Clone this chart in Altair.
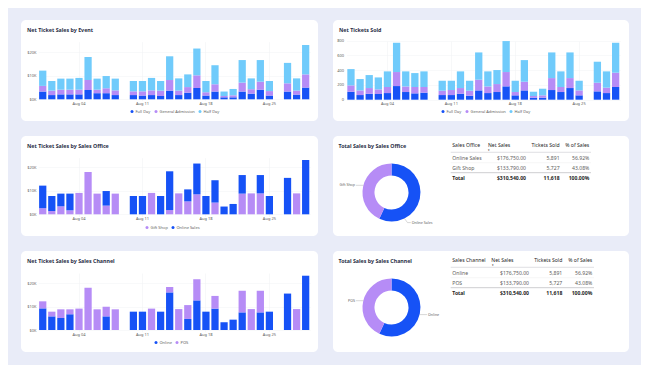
import altair as alt
import pandas as pd

FONT = "Noto Sans"
BLUE = "#1652f6"
PURPLE = "#b68cf6"
LIGHT = "#70cbfb"
BG = "#e9ecf8"
TITLE_C = "#2a2e45"
TEXT_C = "#605e5c"
DARK_C = "#252423"

all_days = ["Jul 31", "Aug 01", "Aug 02", "Aug 03", "Aug 04", "Aug 05", "Aug 06", "Aug 07",
            "Aug 08", "Aug 09", "Aug 10", "Aug 11", "Aug 12", "Aug 13", "Aug 14", "Aug 15",
            "Aug 16", "Aug 17", "Aug 18", "Aug 19", "Aug 20", "Aug 21", "Aug 22", "Aug 23",
            "Aug 24", "Aug 25", "Aug 26", "Aug 27", "Aug 28", "Aug 29"]
sale_days = ["Jul 31", "Aug 01", "Aug 02", "Aug 03", "Aug 04", "Aug 05", "Aug 06", "Aug 07",
             "Aug 08", "Aug 10", "Aug 11", "Aug 12", "Aug 13", "Aug 14", "Aug 15",
             "Aug 16", "Aug 17", "Aug 18", "Aug 19", "Aug 20", "Aug 21", "Aug 22", "Aug 23",
             "Aug 24", "Aug 25", "Aug 27", "Aug 28", "Aug 29"]
tick_days = ["Aug 04", "Aug 11", "Aug 18", "Aug 25"]

# Net ticket sales by event ($K)
ev_full = [3.3, 1.8, 2.1, 2.1, 2.1, 4.0, 2.6, 2.6, 1.8, 1.8, 1.6, 1.8, 1.4, 3.7, 1.8, 2.8,
           4.8, 1.6, 3.3, 0.85, 0.85, 3.3, 2.4, 4.1, 1.6, 3.3, 2.0, 5.0]
ev_ga = [2.4, 1.9, 2.0, 2.0, 2.0, 4.2, 1.5, 2.1, 2.0, 1.6, 1.8, 2.0, 2.3, 4.5, 1.9, 2.4,
         5.4, 1.4, 3.1, 0.55, 0.85, 3.8, 1.9, 3.4, 1.9, 3.5, 1.7, 5.6]
ev_half = [6.5, 4.1, 4.7, 4.7, 5.0, 9.8, 4.7, 5.2, 5.0, 4.4, 4.4, 5.3, 4.1, 10.1, 5.2, 5.4,
           11.4, 4.8, 8.1, 1.9, 2.7, 9.6, 4.6, 9.2, 4.3, 8.7, 5.2, 12.5]

# Net tickets sold
tk_full = [108, 63, 81, 77, 90, 185, 104, 86, 95, 63, 63, 81, 54, 126, 90, 104, 181, 59, 126,
           27, 27, 131, 104, 158, 59, 113, 90, 172]
tk_ga = [86, 63, 77, 63, 82, 190, 76, 86, 77, 59, 68, 77, 68, 145, 90, 108, 194, 45, 118,
         23, 32, 162, 68, 135, 67, 117, 73, 194]
tk_half = [221, 154, 176, 162, 212, 397, 204, 189, 212, 135, 126, 226, 135, 370, 204, 190, 420,
           153, 293, 58, 90, 348, 212, 348, 131, 285, 221, 406]

# Net ticket sales by sales office ($K)
of_gift = [2.6, 1.4, 3.4, 1.7, 9.1, 18.0, 8.8, 3.7, 8.8, 0, 0, 9.1, 0, 1.8, 8.9, 5.5, 8.5, 0,
           5.0, 0, 0, 8.8, 8.9, 8.9, 0, 0, 8.9, 0]
of_online = [9.6, 6.4, 5.4, 7.1, 0, 0, 0, 6.2, 0, 7.8, 7.8, 0, 7.8, 16.5, 0, 5.1, 13.1, 7.8,
             9.5, 3.3, 4.4, 7.9, 0, 7.8, 7.8, 15.5, 0, 23.1]

# Net ticket sales by sales channel ($K)
ch_online = [9.2, 5.8, 5.1, 6.7, 0, 0, 0, 5.8, 0, 7.8, 7.8, 0, 7.8, 16.0, 0, 4.7, 12.6, 7.8,
             9.1, 3.3, 4.4, 7.5, 0, 7.5, 7.8, 15.5, 0, 23.1]
ch_pos = [3.0, 2.0, 3.7, 2.1, 9.1, 18.0, 8.8, 4.1, 8.8, 0, 0, 9.1, 0, 2.3, 8.9, 5.9, 9.0, 0,
          5.4, 0, 0, 9.2, 8.9, 9.2, 0, 0, 8.9, 0]

# Totals tables
office_names = ["Online Sales", "Gift Shop"]
channel_names = ["Online", "POS"]
net_sales = [176750.00, 133790.00]
tickets_sold = [5891, 5727]
pct_sales = [56.92, 43.08]
total_net = 310540.00
total_tickets = 11618
total_pct = 100.00


def long_df(names, series):
    rows = []
    for o, (n, vals) in enumerate(zip(names, series)):
        for d, v in zip(sale_days, vals):
            rows.append({"day": d, "cat": n, "v": v, "o": o})
    return pd.DataFrame(rows)


def title_layer(text, x=6, y=9.8):
    return alt.Chart(pd.DataFrame({"t": [text]})).mark_text(
        align="left", baseline="middle", fontSize=5.3, fontWeight="bold",
        color=TITLE_C, font=FONT
    ).encode(text="t:N", x=alt.value(x), y=alt.value(y))


def bar_panel(title, names, series, colors, x_range, y_dom, y_rng, y_vals, y_expr,
              y_off, legend_x, w, h):
    df = long_df(names, series)
    bars = alt.Chart(df).mark_bar().encode(
        x=alt.X("day:O",
                scale=alt.Scale(domain=all_days, range=x_range, paddingInner=0.2,
                                paddingOuter=0.1),
                axis=alt.Axis(values=tick_days, title=None, labelAngle=0, labelFontSize=4,
                              labelColor=TEXT_C, labelFont=FONT, labelPadding=2.2,
                              ticks=False, domain=False, grid=True, gridColor="#eef0f3",
                              gridWidth=0.5, offset=y_rng[0] - h)),
        y=alt.Y("v:Q", stack="zero",
                scale=alt.Scale(domain=y_dom, range=y_rng, nice=False, zero=True),
                axis=alt.Axis(values=y_vals, labelExpr=y_expr, title=None, labelFontSize=4,
                              labelColor=TEXT_C, labelFont=FONT, labelPadding=2,
                              ticks=False, domain=False, grid=True, gridColor="#f1f2f5",
                              gridWidth=0.5, offset=y_off)),
        color=alt.Color("cat:N", scale=alt.Scale(domain=names, range=colors),
                        legend=alt.Legend(orient="none", legendX=legend_x, legendY=89.6,
                                          direction="horizontal", title=None,
                                          symbolType="circle", symbolSize=9,
                                          symbolStrokeWidth=0, labelFontSize=4,
                                          labelFont=FONT, labelColor=TEXT_C,
                                          labelOffset=1.5, columnPadding=3, padding=0)),
        order=alt.Order("o:Q", sort="ascending"),
    )
    return alt.layer(bars, title_layer(title)).properties(width=w, height=h)


def fmt_money(v):
    return "${:,.2f}".format(v)


def donut_panel(title, names, head, lab_a, lab_b, w, h):
    cx, cy = 58.5, 56.5
    df = pd.DataFrame({"cat": names, "v": pct_sales, "o": [0, 1]})
    arc = alt.Chart(df).mark_arc(innerRadius=17, outerRadius=29).encode(
        theta=alt.Theta("v:Q", stack=True),
        color=alt.Color("cat:N", scale=alt.Scale(domain=names, range=[BLUE, PURPLE]),
                        legend=None),
        order=alt.Order("o:Q", sort="ascending"),
        x=alt.value(cx), y=alt.value(cy),
    )
    layers = [arc, title_layer(title, x=5.5, y=9.5)]
    # donut labels with leader lines
    for (txt, tx, ty, al, segs) in (lab_a, lab_b):
        layers.append(alt.Chart(pd.DataFrame({"t": [txt]})).mark_text(
            align=al, baseline="middle", fontSize=3.6, color=TEXT_C, font=FONT
        ).encode(text="t:N", x=alt.value(tx), y=alt.value(ty)))
        for (x1, y1, x2, y2) in segs:
            layers.append(alt.Chart(pd.DataFrame({"a": [0]})).mark_rule(
                color="#b0b0b0", strokeWidth=0.5
            ).encode(x=alt.value(x1), x2=alt.value(x2), y=alt.value(y1), y2=alt.value(y2)))

    # table
    c0, c1h, c1, c2, c3 = head["x"]
    lx0, lx1 = head["lines"]
    hdr = [(head["name"], c0, "left"), ("Net Sales", c1h, "left"),
           ("Tickets Sold", c2, "right"), ("% of Sales", c3, "right")]
    for (txt, x, al) in hdr:
        layers.append(alt.Chart(pd.DataFrame({"t": [txt]})).mark_text(
            align=al, baseline="middle", fontSize=5.1, color=DARK_C, font=FONT
        ).encode(text="t:N", x=alt.value(x), y=alt.value(8.6)))
    layers.append(alt.Chart(pd.DataFrame({"t": ["\u25BE"]})).mark_text(
        align="left", baseline="middle", fontSize=3.2, color=DARK_C, font=FONT
    ).encode(text="t:N", x=alt.value(c1h + 0.3), y=alt.value(13.6)))

    tdf = pd.DataFrame({
        "r": [0, 1, 2],
        "name": names + ["Total"],
        "net": [fmt_money(v) for v in net_sales] + [fmt_money(total_net)],
        "tk": ["{:,}".format(v) for v in tickets_sold] + ["{:,}".format(total_tickets)],
        "pct": ["{:.2f}%".format(v) for v in pct_sales] + ["{:.2f}%".format(total_pct)],
        "kind": ["row", "row", "total"],
    })
    yenc = alt.Y("r:O", scale=alt.Scale(domain=[0, 1, 2], range=[21.7, 41.7], padding=0),
                 axis=None)
    for field, x, al in (("name", c0, "left"), ("net", c1, "right"),
                         ("tk", c2, "right"), ("pct", c3, "right")):
        for kind, col, wt in (("row", TEXT_C, "normal"), ("total", DARK_C, "bold")):
            layers.append(alt.Chart(tdf).transform_filter(
                alt.datum.kind == kind
            ).mark_text(align=al, baseline="middle", fontSize=5.1, color=col,
                        fontWeight=wt, font=FONT).encode(
                text=f"{field}:N", x=alt.value(x), y=yenc))
    for (yy, col, sw) in ((16.3, "#d8d8dc", 0.8), (26.7, "#eeeeef", 0.5),
                          (36.7, "#c8c8cc", 0.9)):
        layers.append(alt.Chart(pd.DataFrame({"a": [0]})).mark_rule(
            color=col, strokeWidth=sw
        ).encode(x=alt.value(lx0), x2=alt.value(lx1), y=alt.value(yy)))
    return alt.layer(*layers).properties(width=w, height=h)


money_expr = "'$' + datum.value + 'K'"

p1 = bar_panel("Net Ticket Sales by Event", ["Full Day", "General Admission", "Half Day"],
               [ev_full, ev_ga, ev_half], [BLUE, PURPLE, LIGHT], [17.2, 289.2],
               [0, 25], [79.3, 20.55], [0, 10, 20], money_expr, -17, 109, 297, 101)
p2 = bar_panel("Net Tickets Sold", ["Full Day", "General Admission", "Half Day"],
               [tk_full, tk_ga, tk_half], [BLUE, PURPLE, LIGHT], [13.4, 287.2],
               [0, 800], [79.7, 20.7], [0, 200, 400, 600, 800], "datum.value", -12.5, 108,
               296, 101)
p3 = bar_panel("Net Ticket Sales by Sales Office", ["Gift Shop", "Online Sales"],
               [of_gift, of_online], [PURPLE, BLUE], [17.2, 289.2],
               [0, 25], [78.3, 19.55], [0, 10, 20], money_expr, -17, 124, 297, 100)
p5 = bar_panel("Net Ticket Sales by Sales Channel", ["Online", "POS"],
               [ch_online, ch_pos], [BLUE, PURPLE], [17.2, 289.2],
               [0, 25], [79.0, 20.25], [0, 10, 20], money_expr, -17, 133, 297, 101)

p4 = donut_panel("Total Sales by Sales Office", office_names,
                 {"name": "Sales Office", "x": [119.3, 155, 193, 226.6, 256.3],
                  "lines": [117.7, 258]},
                 ("Gift Shop", 22, 49.3, "right", [(22.8, 49.3, 30.5, 49.3)]),
                 ("Online Sales", 78.7, 86.8, "left",
                  [(71.5, 82.5, 74.5, 86.6), (74.5, 86.6, 77.8, 86.6)]),
                 296, 100)
p6 = donut_panel("Total Sales by Sales Channel", channel_names,
                 {"name": "Sales Channel", "x": [119.3, 158.3, 196, 229.3, 259.3],
                  "lines": [117.7, 261]},
                 ("POS", 22, 49.7, "right", [(22.8, 49.7, 30.5, 49.7)]),
                 ("Online", 95, 64, "left", [(86.8, 63.6, 94, 63.6)]),
                 296, 101)


def row(a, b):
    return alt.hconcat(a, b, spacing=15).resolve_scale(color="independent")


chart = alt.vconcat(
    row(p1, p2),
    row(p3, p4),
    row(p5, p6),
    spacing=15,
).resolve_scale(color="independent").properties(
    background=BG,
    padding={"left": 13, "top": 12, "right": 12, "bottom": 13},
).configure_view(
    fill="white", cornerRadius=5, strokeWidth=0
).configure_text(font=FONT)

chart.save("out.html", embed_options={"renderer": "svg", "actions": False})
